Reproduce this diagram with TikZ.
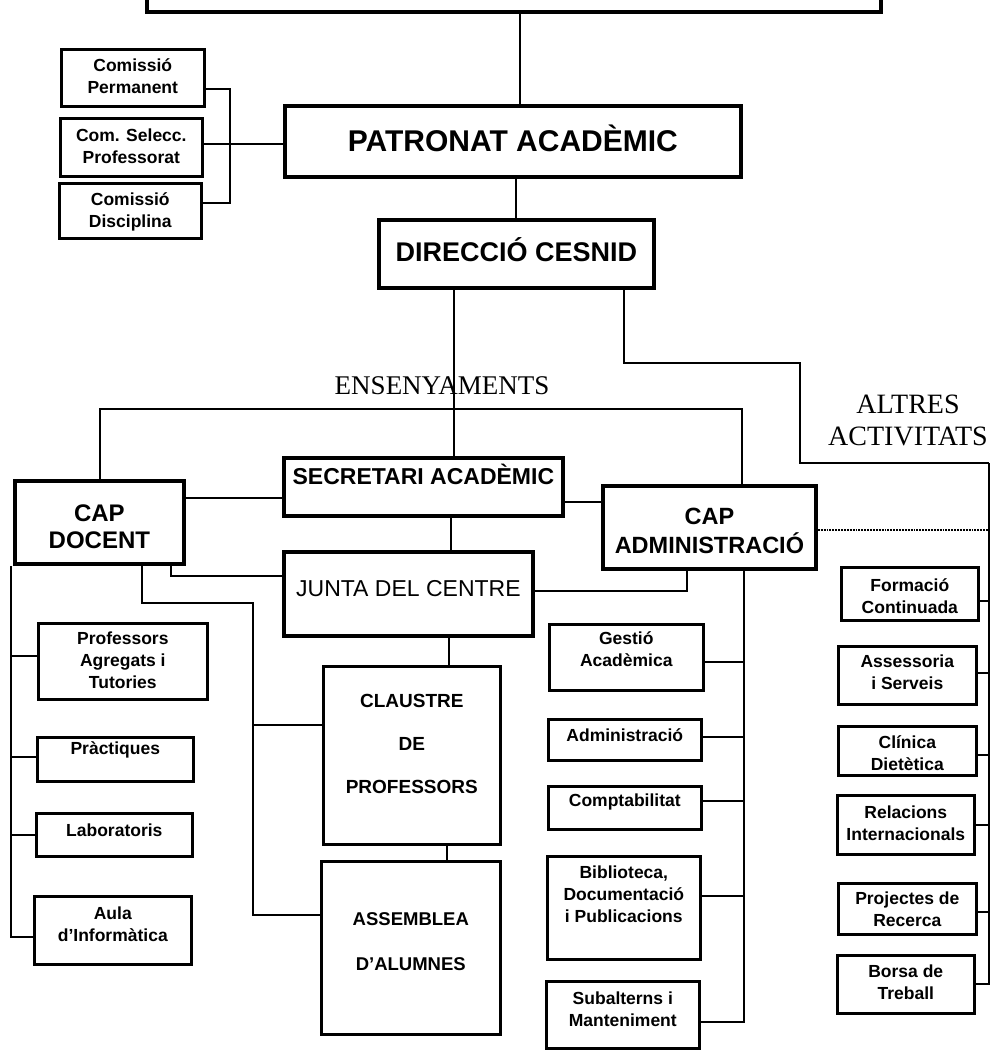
\documentclass[tikz,border=0pt]{standalone}
\usepackage{fontspec}
\setmainfont{Liberation Serif}
\setsansfont{Liberation Sans}
\newcommand{\stk}[1]{\begin{tabular}[t]{@{}c@{}}#1\end{tabular}}
\begin{document}
\begin{tikzpicture}[x=1pt,y=-1pt,
  box/.style={draw, line width=2.6pt, inner sep=0pt, anchor=north west,
    font=\sffamily\bfseries\fontsize{17.5}{22}\selectfont},
  headbox/.style={box, line width=3.8pt},
  link/.style={line width=1.9pt},
  title/.style={font=\fontsize{27}{32}\selectfont}]
  \useasboundingbox (0,0) rectangle (994,1050);
  % Board at the top (cut by the page)
  \node[headbox, minimum width=734pt, text height=40pt, text depth=0pt] (board) at (145,-30) {};
  % Patronat and its commissions
  \node[headbox, font=\sffamily\bfseries\fontsize{30}{34}\selectfont, minimum width=456pt,
    text height=46pt, text depth=25pt] (patronat) at (283,104) {PATRONAT ACADÈMIC};
  \node[box, minimum width=143pt, text height=22pt, text depth=35pt] (perm) at (60,48) {\stk{Comissió\\Permanent}};
  \node[box, minimum width=142pt, text height=23.5pt, text depth=34.5pt] (selecc) at (59,117) {\stk{Com. Selecc.\\Professorat}};
  \node[box, minimum width=142pt, text height=22pt, text depth=33pt] (disc) at (58,182) {\stk{Comissió\\Disciplina}};
  \draw[link] ([yshift=-11pt]perm.east) -| ([xshift=26pt]selecc.east) |- ([yshift=8pt]disc.east);
  \draw[link] ([yshift=3pt]selecc.east) coordinate (c1) -- (c1 -| patronat.west);
  \draw[link] ([xshift=7pt]patronat.north) coordinate (c2) -- (c2 |- board.south);
  % Direccio
  \node[headbox, font=\sffamily\bfseries\fontsize{27}{31}\selectfont, minimum width=275pt,
    text height=42pt, text depth=26pt] (direccio) at (377,218) {DIRECCIÓ CESNID};
  \draw[link] (patronat.south -| direccio.north) -- (direccio.north);
  % Ensenyaments
  \node[title] (ens) at (442,386) {ENSENYAMENTS};
  \node[headbox, font=\sffamily\bfseries\fontsize{23}{27}\selectfont, minimum width=279pt,
    text height=27pt, text depth=31pt] (secretari) at (282,456) {SECRETARI ACADÈMIC};
  \node[headbox, font=\sffamily\bfseries\fontsize{24}{26.5}\selectfont, minimum width=169pt,
    text height=41pt, text depth=42pt] (capdoc) at (13,479) {\stk{CAP\\DOCENT}};
  \node[headbox, font=\sffamily\bfseries\fontsize{23.5}{27}\selectfont, minimum width=213pt,
    text height=39pt, text depth=44pt] (capadm) at (601,484) {\stk{CAP\\ADMINISTRACIÓ}};
  \node[headbox, font=\sffamily\fontsize{23}{27}\selectfont, minimum width=249pt,
    text height=45pt, text depth=39pt] (junta) at (282,550) {JUNTA DEL CENTRE};
  \draw[link] ([xshift=-62.5pt]direccio.south) coordinate (c3) -- (c3 |- secretari.north);
  \coordinate (brl) at (100,409);
  \coordinate (brr) at (742,409);
  \draw[link] (brl |- capdoc.north) -- (brl) -- (brr) -- (brr |- capadm.north);
  \draw[link] ([yshift=24pt]capdoc.east) coordinate (c5) -- (c5 -| secretari.west);
  \draw[link] ([yshift=-15pt]secretari.east) coordinate (c6) -- (c6 -| capadm.west);
  \draw[link] ([xshift=27.5pt]secretari.south) coordinate (c7) -- (c7 |- junta.north);
  \draw[link] ([xshift=71.5pt]capdoc.south) |- ([yshift=18pt]junta.west);
  \draw[link] ([xshift=-22.5pt]capadm.south) |- ([yshift=3pt]junta.east);
  % Claustre and Assemblea
  \node[box, font=\sffamily\bfseries\fontsize{19}{43}\selectfont, minimum width=177pt,
    text height=41pt, text depth=137pt] (claustre) at (322,665) {\stk{CLAUSTRE\\DE\\PROFESSORS}};
  \node[box, font=\sffamily\bfseries\fontsize{18.5}{45}\selectfont, minimum width=179pt,
    text height=64pt, text depth=109pt] (assemblea) at (320,860) {\stk{ASSEMBLEA\\D'ALUMNES}};
  \coordinate (cjoint) at (253,603);
  \draw[link] ([xshift=42.5pt]capdoc.south) |- (cjoint) |- ([yshift=32.5pt]assemblea.west);
  \draw[link] ([yshift=30pt]claustre.west) -| (cjoint);
  \draw[link] ([xshift=40.5pt]junta.south) coordinate (c8) -- (c8 |- claustre.north);
  \draw[link] ([xshift=35pt]claustre.south) coordinate (c9) -- (c9 |- assemblea.north);
  % Docent column
  \node[box, minimum width=169pt, text height=21pt, text depth=55pt] (prof) at (37,622) {\stk{Professors\\Agregats i\\Tutories}};
  \node[box, minimum width=156pt, text height=17pt, text depth=27pt] (prac) at (36,736) {Pràctiques};
  \node[box, minimum width=156pt, text height=23pt, text depth=20pt] (lab) at (35,812) {Laboratoris};
  \node[box, minimum width=157pt, text height=23pt, text depth=45pt] (aula) at (33,895) {\stk{Aula\\d'Informàtica}};
  \coordinate (dspine) at ([xshift=-2pt]capdoc.south west);
  \foreach \n/\d in {prof/5pt, prac/2pt, lab/0pt, aula/-7pt}
    \draw[link] ([yshift=\d]\n.west) -| (dspine);
  % Administracio column
  \node[box, minimum width=154pt, text height=20pt, text depth=46pt] (gest) at (548,623) {\stk{Gestió\\Acadèmica}};
  \node[box, minimum width=153pt, text height=22pt, text depth=19pt] (adm) at (547,718) {Administració};
  \node[box, minimum width=153pt, text height=20pt, text depth=23pt] (comp) at (547,785) {Comptabilitat};
  \node[box, minimum width=153pt, text height=22pt, text depth=81pt] (bib) at (546,855) {\stk{Biblioteca,\\Documentació\\i Publicacions}};
  \node[box, minimum width=153pt, text height=23pt, text depth=44pt] (sub) at (545,980) {\stk{Subalterns i\\Manteniment}};
  \coordinate (aspine) at ([xshift=34.5pt]capadm.south);
  \foreach \n/\d in {gest/-5pt, adm/3pt, comp/6.5pt, bib/11.5pt, sub/-7.5pt}
    \draw[link] ([yshift=\d]\n.east) -| (aspine);
  % Altres activitats
  \node[title, align=center, font=\fontsize{28}{32}\selectfont] (altres) at (908,420) {ALTRES\\ACTIVITATS};
  \coordinate (altbend) at (800,363);
  \coordinate (rspine) at (989,463);
  \draw[link] ([xshift=107.5pt]direccio.south) |- (altbend) |- (rspine);
  \draw[link, densely dotted] ([yshift=-2.5pt]capadm.east) coordinate (c4) -- (c4 -| rspine);
  \node[box, minimum width=137pt, text height=24pt, text depth=29pt] (form) at (840,566) {\stk{Formació\\Continuada}};
  \node[box, minimum width=138pt, text height=21pt, text depth=37pt] (ases) at (837,645) {\stk{Assessoria\\i Serveis}};
  \node[box, minimum width=138pt, text height=22pt, text depth=27pt] (clin) at (837,725) {\stk{Clínica\\Dietètica}};
  \node[box, minimum width=137pt, text height=23pt, text depth=36pt] (rel) at (836,794) {\stk{Relacions\\Internacionals}};
  \node[box, minimum width=138pt, text height=21pt, text depth=30pt] (proj) at (837,882) {\stk{Projectes de\\Recerca}};
  \node[box, minimum width=137pt, text height=22pt, text depth=36pt] (bor) at (836,954) {\stk{Borsa de\\Treball}};
  \foreach \n/\d in {form/-7.5pt, ases/2pt, clin/-4.5pt, rel/0pt, proj/-3.5pt, bor/0pt}
    \draw[link] ([yshift=\d]\n.east) -| (rspine);
\end{tikzpicture}
\end{document}
